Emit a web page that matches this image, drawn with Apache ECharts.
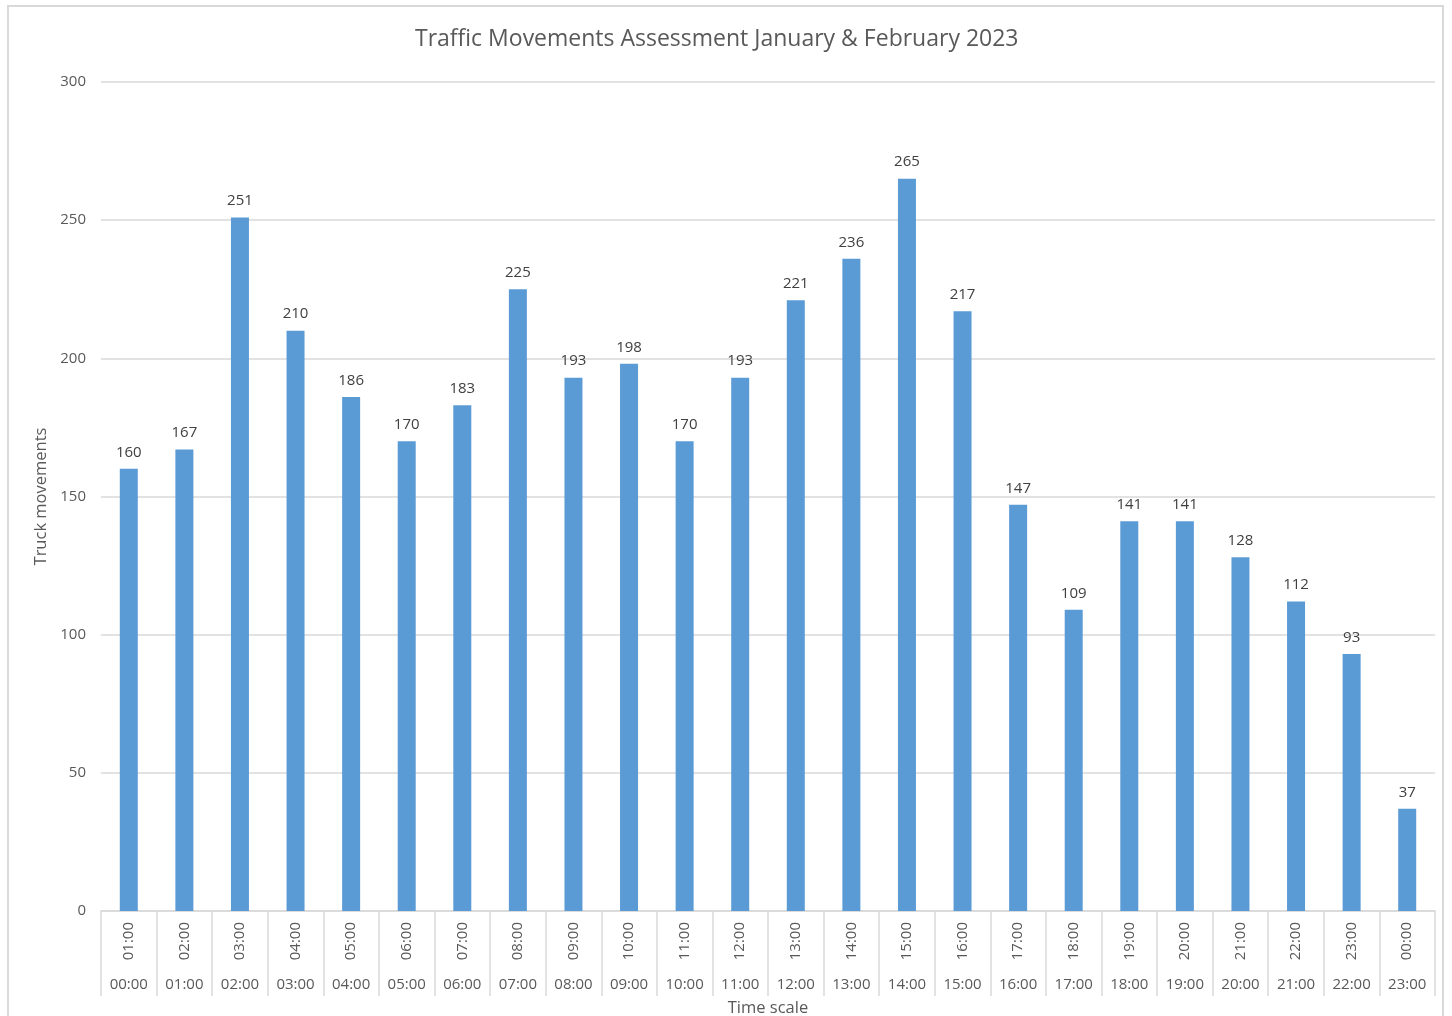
<!DOCTYPE html>
<html><head><meta charset="utf-8">
<script src="https://cdn.jsdelivr.net/npm/echarts@6/dist/echarts.min.js"></script>
<style>
html,body{margin:0;padding:0;background:#fff;overflow:hidden;}
#frame{position:absolute;left:7px;top:5px;width:1437px;height:1030px;border:2px solid #d9d9d9;box-sizing:border-box;}
#c{position:absolute;left:0;top:0;width:1452px;height:1016px;}
</style></head>
<body>
<div id="frame"></div>
<div id="c"></div>
<script>
var endHours = ['01:00','02:00','03:00','04:00','05:00','06:00','07:00','08:00','09:00','10:00','11:00','12:00','13:00','14:00','15:00','16:00','17:00','18:00','19:00','20:00','21:00','22:00','23:00','00:00'];
var startHours = ['00:00','01:00','02:00','03:00','04:00','05:00','06:00','07:00','08:00','09:00','10:00','11:00','12:00','13:00','14:00','15:00','16:00','17:00','18:00','19:00','20:00','21:00','22:00','23:00'];
var truckMovements = [160,167,251,210,186,170,183,225,193,198,170,193,221,236,265,217,147,109,141,141,128,112,93,37];
var yTicks = {min:0, max:300, interval:50};

var FONT = '"Open Sans", "Noto Sans", sans-serif';
var chart = echarts.init(document.getElementById('c'), null, {renderer:'canvas'});
chart.setOption({
  backgroundColor: 'transparent',
  animation: false,
  textStyle: {fontFamily: FONT},
  title: {
    text: 'Traffic Movements Assessment January & February 2023',
    left: 410, top: 23,
    textStyle: {fontFamily: FONT, fontSize: 23, fontWeight: 'normal', color: '#595959'}
  },
  grid: {left: 101, right: 17, top: 82, bottom: 105, containLabel: false, outerBoundsMode: 'none'},
  xAxis: [{
    type: 'category',
    data: endHours,
    position: 'bottom',
    axisLine: {show: true, lineStyle: {color: '#d9d9d9', width: 1.5}},
    axisTick: {show: true, length: 85, lineStyle: {color: '#d9d9d9', width: 1.5}},
    axisLabel: {rotate: 90, margin: 11, fontSize: 15, color: '#595959', fontFamily: FONT, interval: 0},
    name: 'Time scale',
    nameLocation: 'middle',
    nameGap: 89,
    nameTextStyle: {fontSize: 16.5, color: '#595959', fontFamily: FONT}
  }, {
    type: 'category',
    data: startHours,
    position: 'bottom',
    axisLine: {show: false},
    axisTick: {show: false},
    axisLabel: {margin: 66, fontSize: 15, color: '#595959', fontFamily: FONT, interval: 0}
  }],
  yAxis: {
    type: 'value',
    min: yTicks.min, max: yTicks.max, interval: yTicks.interval,
    axisLine: {show: false},
    axisTick: {show: false},
    splitLine: {lineStyle: {color: '#d9d9d9', width: 1.5}},
    axisLabel: {margin: 15, fontSize: 15, color: '#595959', fontFamily: FONT},
    name: 'Truck movements',
    nameLocation: 'middle',
    nameGap: 50,
    nameTextStyle: {fontSize: 16.5, color: '#595959', fontFamily: FONT}
  },
  series: [{
    type: 'bar',
    data: truckMovements,
    xAxisIndex: 0,
    barWidth: 18,
    itemStyle: {color: '#5b9bd5'},
    label: {show: true, position: 'top', distance: 9, fontSize: 15, color: '#404040', fontFamily: FONT}
  }]
});
</script>
</body></html>
